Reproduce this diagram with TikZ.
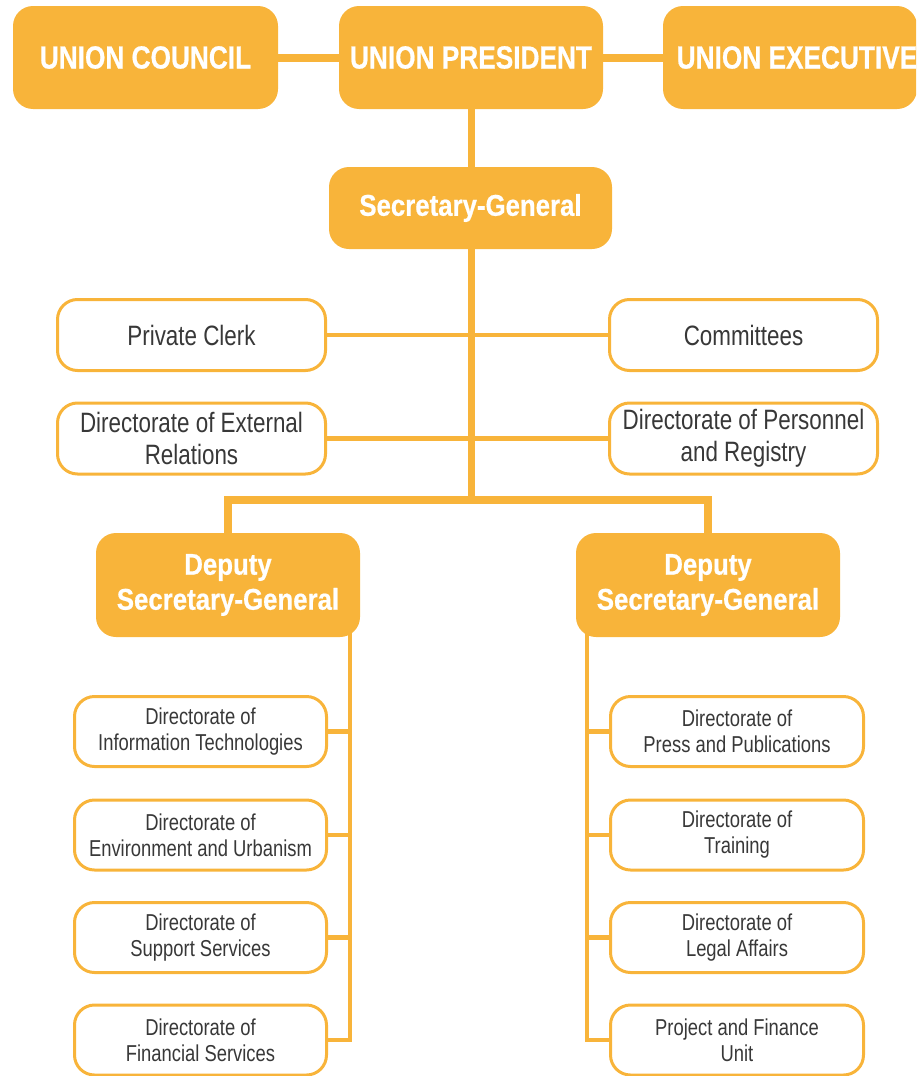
\documentclass[tikz,border=0pt]{standalone}
\usepackage{fontspec}
\setmainfont{Liberation Sans}
\newfontfamily\bfnt{Liberation Sans Bold}[FakeStretch=0.86,FakeBold=0.6]
\newfontfamily\bfntt{Liberation Sans Bold}[FakeStretch=0.82,FakeBold=0.6]
\newfontfamily\rfnt{Liberation Sans}[FakeStretch=0.8]
\usetikzlibrary{backgrounds}
\definecolor{org}{HTML}{F8B43A}
\definecolor{txt}{HTML}{383838}
\tikzset{
 topbox/.style={fill=org, rounded corners=20pt, minimum width=265pt, minimum height=103pt, inner sep=0pt, text=white, font=\bfntt\fontsize{32}{35}\selectfont},
 midbox/.style={fill=org, rounded corners=20pt, inner sep=0pt, text=white, align=center, font=\bfnt\fontsize{30}{35}\selectfont},
 wbox/.style={draw=org, line width=3pt, fill=white, rounded corners=20pt, inner sep=0pt, align=center, text=txt},
 bigtxt/.style={font=\rfnt\fontsize{28}{32}\selectfont, minimum width=268pt, minimum height=71pt},
 smalltxt/.style={font=\rfnt\fontsize{23}{26}\selectfont, minimum height=70pt},
 connw/.style={draw=org, line width=8pt, line join=miter},
 connv/.style={draw=org, line width=7pt},
 connn/.style={draw=org, line width=4.5pt, line join=miter},
}
\begin{document}
\begin{tikzpicture}[x=1pt,y=-1pt]
\useasboundingbox (0,0) rectangle (916,1076);
\clip (0,0) rectangle (916,1076);
% top row
\node[topbox] (uc) at (145.5,57.5) {UNION COUNCIL};
\node[topbox, minimum width=264pt] (up) at (471,57.5) {UNION PRESIDENT};
\node[topbox, minimum width=254pt] (ue) at (790,57.5) {};
\node[text=white, inner sep=0pt, font=\bfntt\fontsize{32}{35}\selectfont] (uet) at (797,57.5) {UNION EXECUTIVE};
% secretary general
\node[midbox, minimum width=283pt, minimum height=82pt] (sg) at (470.5,208) {Secretary-General};
% side boxes
\node[wbox, bigtxt] (pc) at (191.5,335) {Private Clerk};
\node[wbox, bigtxt] (er) at (191.5,438.5) {Directorate of External\\Relations};
\node[wbox, bigtxt] (cm) at (743.5,335) {Committees};
\node[wbox, bigtxt] (pr) at (743.5,438.5) {Directorate of Personnel\\and Registry};
% deputies
\node[midbox, minimum width=264pt, minimum height=104pt] (dl) at (228,585) {Deputy\\Secretary-General};
\node[midbox, minimum width=264pt, minimum height=104pt] (dr) at (708,585) {Deputy\\Secretary-General};
% left column
\node[wbox, smalltxt, minimum width=252pt] (it) at (200.5,731.5) {Directorate of\\Information Technologies};
\node[wbox, smalltxt, minimum width=252pt] (en) at (200.5,835) {Directorate of\\Environment and Urbanism};
\node[wbox, smalltxt, minimum width=252pt] (ss) at (200.5,937.5) {Directorate of\\Support Services};
\node[wbox, smalltxt, minimum width=252pt] (fs) at (200.5,1040) {Directorate of\\Financial Services};
% right column
\node[wbox, smalltxt, minimum width=253pt] (pp) at (737,731.5) {Directorate of\\Press and Publications};
\node[wbox, smalltxt, minimum width=253pt] (tr) at (737,835) {Directorate of\\Training};
\node[wbox, smalltxt, minimum width=253pt] (la) at (737,937.5) {Directorate of\\Legal Affairs};
\node[wbox, smalltxt, minimum width=253pt] (pf) at (737,1040) {Project and Finance\\Unit};
\coordinate (j) at (471,500);
\coordinate (lt) at (350,620);
\coordinate (rt) at (587,620);
\begin{scope}[on background layer]
\draw[connw] (uc.east) -- (up.west);
\draw[connw] (up.east) -- (ue.west);
\draw[connv] (up.south) -- (up.south |- sg.north);
\draw[connv] (up.south |- sg.south) -- (j);
\draw[connw] (dl.north) |- (j) -| (dr.north);
\draw[connn] (pc.east) -- (cm.west);
\draw[connn] (er.east) -- (pr.west);
\draw[connn] (lt) |- (fs.east);
\draw[connn] (it.east) -- (it.east -| lt);
\draw[connn] (en.east) -- (en.east -| lt);
\draw[connn] (ss.east) -- (ss.east -| lt);
\draw[connn] (rt) |- (pf.west);
\draw[connn] (pp.west) -- (pp.west -| rt);
\draw[connn] (tr.west) -- (tr.west -| rt);
\draw[connn] (la.west) -- (la.west -| rt);
\end{scope}
\end{tikzpicture}
\end{document}
